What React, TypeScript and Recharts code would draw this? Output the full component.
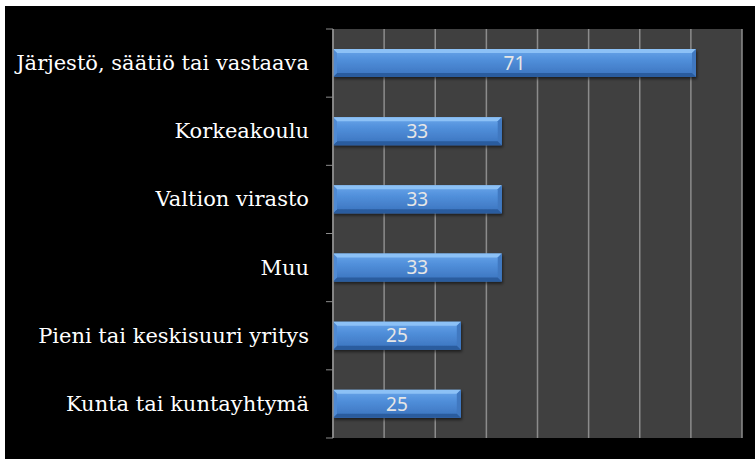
import React from 'react';
import { Bar, BarChart, CartesianGrid, LabelList, XAxis, YAxis } from 'recharts';

const categories = [
    'Järjestö, säätiö tai vastaava',
    'Korkeakoulu',
    'Valtion virasto',
    'Muu',
    'Pieni tai keskisuuri yritys',
    'Kunta tai kuntayhtymä',
];
const counts = [71, 33, 33, 33, 25, 25];
const xTicks = [0, 10, 20, 30, 40, 50, 60, 70, 80];

const chartData = categories.map((name, i) => ({ name, value: counts[i] }));

const WIDTH = 755;
const HEIGHT = 459;
const margin = { top: 29, right: 13, bottom: 21, left: 0 };
const halfBand = (HEIGHT - margin.top - margin.bottom) / categories.length / 2;

const CategoryTick = (props: any) => {
    const { x, y, payload, index } = props;
    const last = index === categories.length - 1;
    return (
        <g>
            <line x1={x + 17} x2={x + 24} y1={y - halfBand} y2={y - halfBand} stroke="#8c8c8c" strokeWidth={1} />
            {last && <line x1={x + 17} x2={x + 24} y1={y + halfBand} y2={y + halfBand} stroke="#8c8c8c" strokeWidth={1} />}
            <text
                x={x}
                y={y}
                dy={7}
                textAnchor="end"
                fill="#ffffff"
                fontSize={21}
                fontFamily="'DejaVu Serif', serif"
            >
                {payload.value}
            </text>
        </g>
    );
};

const BevelBar = (props: any) => {
    const { x, y, width, height } = props;
    if (!width || width <= 0) return null;
    const b = 4;
    return (
        <g filter="url(#barShadow)">
            <rect x={x} y={y} width={width} height={height} fill="url(#barFill)" />
            <polygon points={`${x},${y} ${x + width},${y} ${x + width - b},${y + b} ${x + b},${y + b}`} fill="#8cc1f6" />
            <polygon points={`${x + width},${y} ${x + width},${y + height} ${x + width - b},${y + height - b} ${x + width - b},${y + b}`} fill="#3f78c0" />
            <polygon points={`${x},${y + height} ${x + width},${y + height} ${x + width - b},${y + height - b} ${x + b},${y + height - b}`} fill="#2b5c9e" />
            <polygon points={`${x},${y} ${x + b},${y + b} ${x + b},${y + height - b} ${x},${y + height}`} fill="#4f8ad4" />
        </g>
    );
};

export default function App() {
    return (
        <div style={{ position: 'absolute', left: 0, top: 0, width: WIDTH, height: HEIGHT, background: '#ffffff' }}>
            <svg width={0} height={0} style={{ position: 'absolute' }}>
                <defs>
                    <linearGradient id="barFill" x1="0" y1="0" x2="0" y2="1">
                        <stop offset="0%" stopColor="#6aa6ea" />
                        <stop offset="35%" stopColor="#5291dc" />
                        <stop offset="100%" stopColor="#3a72bd" />
                    </linearGradient>
                    <filter id="barShadow" x="-5%" y="-20%" width="110%" height="160%">
                        <feDropShadow dx="1" dy="2" stdDeviation="1.5" floodColor="#000000" floodOpacity="0.55" />
                    </filter>
                </defs>
            </svg>
            <div style={{ position: 'absolute', left: 5, top: 6, right: 0, bottom: 0, background: '#000000' }} />
            <div style={{ position: 'absolute', left: 0, top: 0 }}>
                <BarChart width={WIDTH} height={HEIGHT} data={chartData} layout="vertical" margin={margin}>
                    <CartesianGrid fill="#404040" stroke="#8c8c8c" horizontal={false} vertical={true} strokeWidth={1.5} />
                    <XAxis type="number" domain={[0, 80]} ticks={xTicks} hide />
                    <YAxis
                        type="category"
                        dataKey="name"
                        width={333}
                        tickSize={0}
                        tickMargin={24}
                        tickLine={false}
                        axisLine={{ stroke: '#8c8c8c', strokeWidth: 1.5 }}
                        tick={<CategoryTick />}
                        interval={0}
                    />
                    <Bar dataKey="value" barSize={28} shape={<BevelBar />} isAnimationActive={false}>
                        <LabelList dataKey="value" position="center" fill="#e6e6e6" fontSize={19} fontFamily="'Noto Sans', sans-serif" />
                    </Bar>
                </BarChart>
            </div>
        </div>
    );
}
